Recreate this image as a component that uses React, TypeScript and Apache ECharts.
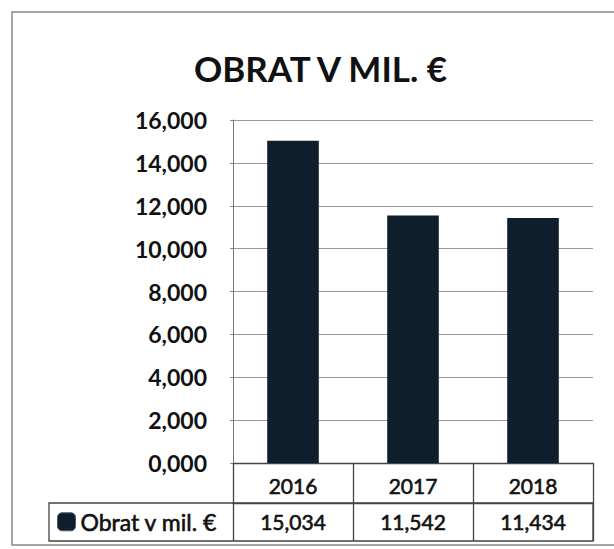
import React, { useEffect, useRef } from "react";
import * as echarts from "echarts";

const years = ["2016", "2017", "2018"];
const turnover = [15.034, 11.542, 11.434];
const seriesName = "Obrat v mil. €";
const titleText = "OBRAT V MIL. €";

const fmt = (v: number) => v.toFixed(3).replace(".", ",");

export default function App() {
  const ref = useRef<HTMLDivElement>(null);
  useEffect(() => {
    if (!ref.current) return;
    const chart = echarts.init(ref.current, null, { renderer: "svg" });
    const font = "Lato";
    const semi = { textBorderColor: "#111", textBorderWidth: 0.6 };
    chart.setOption({
      animation: false,
      backgroundColor: "#ffffff",
      title: {
        text: titleText,
        left: 189,
        top: 45,
        textStyle: { fontFamily: font, fontWeight: "bold", fontSize: 35, color: "#111" },
      },
      legend: {
        data: [seriesName],
        left: 57,
        top: 510,
        padding: 0,
        icon: "roundRect",
        itemWidth: 18,
        itemHeight: 18,
        itemGap: 4,
        itemStyle: { borderColor: "#4a5a6e", borderWidth: 1 },
        textStyle: { fontFamily: font, fontSize: 23, color: "#111", ...semi },
      },
      grid: { left: 233, right: 21, top: 120, bottom: 86, containLabel: false },
      xAxis: [
        {
          type: "category",
          data: years,
          position: "bottom",
          axisLine: { show: true, lineStyle: { color: "#444", width: 1.3 } },
          axisTick: { show: true, alignWithLabel: false, length: 78, lineStyle: { color: "#444", width: 1.3 } },
          axisLabel: { fontFamily: font, fontSize: 21, color: "#111", margin: 12, ...semi },
        },
        {
          type: "category",
          data: turnover.map(fmt),
          position: "bottom",
          offset: 40,
          axisLine: { show: true, lineStyle: { color: "#444", width: 1.3 } },
          axisTick: { show: false },
          axisLabel: { fontFamily: font, fontSize: 21, color: "#111", margin: 8, ...semi },
        },
      ],
      yAxis: {
        type: "value",
        min: 0,
        max: 16,
        interval: 2,
        axisLine: { show: true, lineStyle: { color: "#777" } },
        axisTick: { show: true, length: 3, lineStyle: { color: "#888" } },
        splitLine: { show: true, lineStyle: { color: "#999", width: 1.2 } },
        axisLabel: {
          fontFamily: font,
          fontWeight: "bold",
          fontSize: 23,
          color: "#111",
          margin: 26,
          formatter: (v: number) => fmt(v),
        },
      },
      series: [
        {
          name: seriesName,
          type: "bar",
          data: turnover,
          barWidth: "43%",
          itemStyle: { color: "#0f1e2d" },
        },
      ],
      graphic: [
        {
          type: "rect",
          shape: { x: 12, y: 12, width: 620, height: 533 },
          style: { fill: "none", stroke: "#888", lineWidth: 1.5 },
          silent: true,
        },
        {
          type: "rect",
          shape: { x: 49, y: 503, width: 544, height: 38 },
          style: { fill: "none", stroke: "#444", lineWidth: 1.3 },
          silent: true,
        },
      ],
    });
    return () => chart.dispose();
  }, []);
  return (
    <div
      ref={ref}
      style={{ position: "absolute", left: 0, top: 0, width: 614, height: 549 }}
    />
  );
}
